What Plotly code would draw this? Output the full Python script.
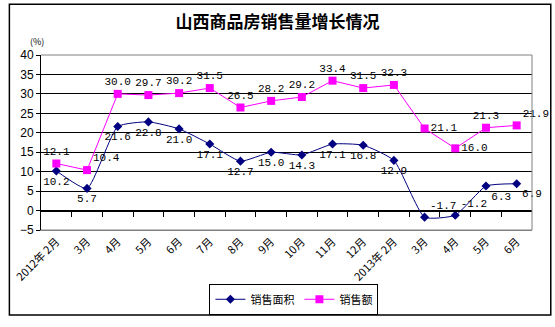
import plotly.graph_objects as go

categories = ["2012年 2月", "3月", "4月", "5月", "6月", "7月", "8月", "9月", "10月",
              "11月", "12月", "2013年 2月", "3月", "4月", "5月", "6月"]
area = [10.2, 5.7, 21.6, 22.8, 21.0, 17.1, 12.7, 15.0, 14.3, 17.1, 16.8, 12.9, -1.7, -1.2, 6.3, 6.9]
amount = [12.1, 10.4, 30.0, 29.7, 30.2, 31.5, 26.5, 28.2, 29.2, 33.4, 31.5, 32.3, 21.1, 16.0, 21.3, 21.9]
yticks = [-5, 0, 5, 10, 15, 20, 25, 30, 35, 40]

area_pos = ["bottom center"] * 12 + ["top right", "top right", "bottom right", "bottom right"]
amount_pos = ["top center", "top right"] + ["top center"] * 10 + ["middle right", "middle right", "top center", "top right"]

xs = list(range(len(categories)))
lab_font = dict(family="Liberation Mono, DejaVu Sans Mono, monospace", size=11, color="black")

fig = go.Figure()
fig.add_trace(go.Scatter(
    x=xs, y=area, name="销售面积", mode="lines+markers+text",
    line=dict(color="#000080", width=1, shape="spline", smoothing=0.5),
    marker=dict(symbol="diamond", size=7, color="#000080"),
    text=[f"{v:.1f}" for v in area], textposition=area_pos, textfont=lab_font,
    cliponaxis=False,
))
fig.add_trace(go.Scatter(
    x=xs, y=amount, name="销售额", mode="lines+markers+text",
    line=dict(color="#FF00FF", width=1),
    marker=dict(symbol="square", size=8, color="#FF00FF"),
    text=[f"{v:.1f}" for v in amount], textposition=amount_pos, textfont=lab_font,
    cliponaxis=False,
))
# invisible trace to carry the tick axis at y=0
fig.add_trace(go.Scatter(x=xs, y=area, xaxis="x2", mode="none", showlegend=False, hoverinfo="skip"))

W, H = 555, 327
L, R, T, B = 35, 532, 55, 234
pw, ph = R - L, B - T

def px(x):
    return (x - L) / pw

def py(y):
    return (B - y) / ph

fig.update_layout(
    width=W, height=H, autosize=False,
    margin=dict(l=L, r=W - R, t=T, b=H - B),
    paper_bgcolor="white", plot_bgcolor="white",
    font=dict(family="Noto Sans CJK SC, sans-serif", size=11, color="black"),
    title=dict(text="<b>山西商品房销售量增长情况</b>", x=0.5, xanchor="center",
               y=1 - 22 / H, yanchor="middle", yref="container",
               font=dict(size=17, family="Noto Sans CJK SC", color="black")),
    xaxis=dict(range=[-0.5, 15.5], tickvals=xs, ticktext=categories, tickangle=-45,
               showgrid=False, zeroline=False, showline=True, linecolor="#808080",
               ticks="", tickfont=dict(size=11, family="Noto Sans CJK SC")),
    xaxis2=dict(range=[-0.5, 15.5], overlaying="x", anchor="free", position=5 / 45,
                side="bottom", showline=True, linecolor="black", linewidth=1,
                tickvals=[i + 0.5 for i in range(15)], ticks="outside", ticklen=5,
                tickcolor="black", showticklabels=False, showgrid=False, zeroline=False),
    yaxis=dict(range=[-5, 40], tickvals=yticks, showgrid=True, gridcolor="black",
               gridwidth=1, zeroline=False, showline=True, linecolor="black",
               ticks="outside", ticklen=4, tickcolor="black",
               tickfont=dict(size=12, family="Liberation Sans, Arial")),
    legend=dict(orientation="h", x=px(291), xanchor="center", y=py(289), yanchor="top",
                bordercolor="black", borderwidth=1, bgcolor="white",
                font=dict(size=11, family="Noto Sans CJK SC"), itemwidth=30,
                tracegroupgap=0),
    showlegend=True,
    shapes=[
        dict(type="rect", xref="paper", yref="paper", x0=px(3), x1=px(551), y0=py(321), y1=py(3),
             line=dict(color="black", width=1.5), layer="below"),
        dict(type="line", xref="paper", yref="paper", x0=0, x1=1, y0=1, y1=1,
             line=dict(color="#808080", width=1), layer="above"),
        dict(type="line", xref="paper", yref="paper", x0=1, x1=1, y0=0, y1=1,
             line=dict(color="#808080", width=1), layer="above"),
        dict(type="line", xref="paper", yref="paper", x0=0, x1=1, y0=0, y1=0,
             line=dict(color="#808080", width=1), layer="above"),
    ],
    annotations=[dict(text="(%)", xref="paper", yref="paper", x=px(31), y=py(41),
                      xanchor="center", yanchor="middle", showarrow=False,
                      font=dict(size=9, family="Noto Sans CJK SC"))],
)

fig.write_html("out.html")
